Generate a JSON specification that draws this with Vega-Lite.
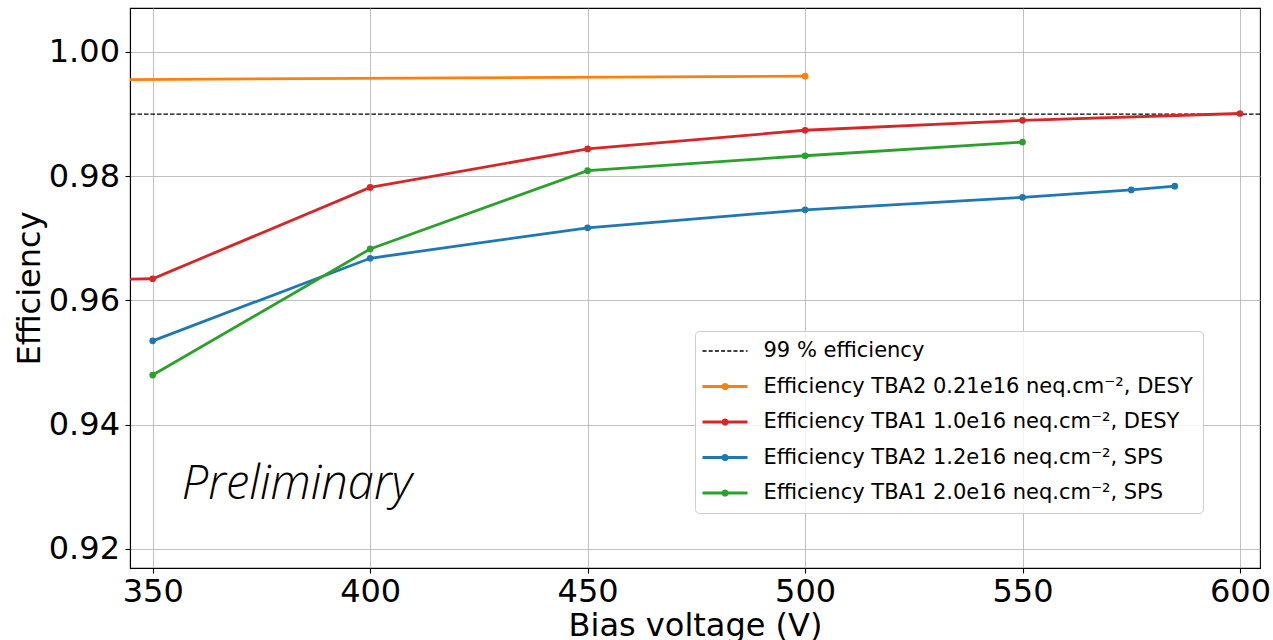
{
  "$schema": "https://vega.github.io/schema/vega-lite/v6.json",
  "width": 1130,
  "height": 560,
  "autosize": {"type": "none"},
  "padding": {"left": 130, "top": 8, "right": 13, "bottom": 72},
  "background": "white",
  "config": {
    "view": {"stroke": "black", "strokeWidth": 1.1},
    "axis": {
      "domainColor": "black", "domainWidth": 1.1,
      "tickColor": "black", "tickWidth": 1.1, "tickSize": 5,
      "labelFont": "DejaVu Sans", "labelFontSize": 32, "labelColor": "black",
      "titleFont": "DejaVu Sans", "titleFontSize": 32, "titleFontWeight": "normal", "titleColor": "black",
      "gridColor": "#b0b0b0", "gridWidth": 0.8
    }
  },
  "datasets": {
    "curves": [
      {"series": "Efficiency TBA2 0.21e16 neq.cm⁻², DESY", "voltage": 300, "eff": 0.9954},
      {"series": "Efficiency TBA2 0.21e16 neq.cm⁻², DESY", "voltage": 500, "eff": 0.9961},
      {"series": "Efficiency TBA1 1.0e16 neq.cm⁻², DESY", "voltage": 300, "eff": 0.9628},
      {"series": "Efficiency TBA1 1.0e16 neq.cm⁻², DESY", "voltage": 350, "eff": 0.9635},
      {"series": "Efficiency TBA1 1.0e16 neq.cm⁻², DESY", "voltage": 400, "eff": 0.9782},
      {"series": "Efficiency TBA1 1.0e16 neq.cm⁻², DESY", "voltage": 450, "eff": 0.9844},
      {"series": "Efficiency TBA1 1.0e16 neq.cm⁻², DESY", "voltage": 500, "eff": 0.9874},
      {"series": "Efficiency TBA1 1.0e16 neq.cm⁻², DESY", "voltage": 550, "eff": 0.9890},
      {"series": "Efficiency TBA1 1.0e16 neq.cm⁻², DESY", "voltage": 600, "eff": 0.9901},
      {"series": "Efficiency TBA2 1.2e16 neq.cm⁻², SPS", "voltage": 350, "eff": 0.9535},
      {"series": "Efficiency TBA2 1.2e16 neq.cm⁻², SPS", "voltage": 400, "eff": 0.9668},
      {"series": "Efficiency TBA2 1.2e16 neq.cm⁻², SPS", "voltage": 450, "eff": 0.9717},
      {"series": "Efficiency TBA2 1.2e16 neq.cm⁻², SPS", "voltage": 500, "eff": 0.9746},
      {"series": "Efficiency TBA2 1.2e16 neq.cm⁻², SPS", "voltage": 550, "eff": 0.9766},
      {"series": "Efficiency TBA2 1.2e16 neq.cm⁻², SPS", "voltage": 575, "eff": 0.9778},
      {"series": "Efficiency TBA2 1.2e16 neq.cm⁻², SPS", "voltage": 585, "eff": 0.9784},
      {"series": "Efficiency TBA1 2.0e16 neq.cm⁻², SPS", "voltage": 350, "eff": 0.9480},
      {"series": "Efficiency TBA1 2.0e16 neq.cm⁻², SPS", "voltage": 400, "eff": 0.9683},
      {"series": "Efficiency TBA1 2.0e16 neq.cm⁻², SPS", "voltage": 450, "eff": 0.9809},
      {"series": "Efficiency TBA1 2.0e16 neq.cm⁻², SPS", "voltage": 500, "eff": 0.9833},
      {"series": "Efficiency TBA1 2.0e16 neq.cm⁻², SPS", "voltage": 550, "eff": 0.9855}
    ],
    "threshold": [{"series": "99 % efficiency", "eff": 0.99}],
    "note": [{"voltage": 356.7, "eff": 0.9281, "label": "Preliminary"}]
  },
  "encoding": {
    "x": {
      "field": "voltage", "type": "quantitative",
      "scale": {"domain": [344.78, 604.6], "nice": false, "zero": false},
      "axis": {"values": [350, 400, 450, 500, 550, 600], "title": "Bias voltage (V)", "labelPadding": 3, "titlePadding": 3, "labelFlush": false}
    },
    "y": {
      "field": "eff", "type": "quantitative",
      "scale": {"domain": [0.91694, 1.00708], "nice": false, "zero": false},
      "axis": {"values": [0.92, 0.94, 0.96, 0.98, 1.0], "format": ".2f", "title": "Efficiency", "labelPadding": 5.5, "titlePadding": 2, "labelFlush": false}
    }
  },
  "layer": [
    {
      "data": {"name": "threshold"},
      "mark": {"type": "rule", "strokeDash": [4.5, 2], "strokeWidth": 1.3},
      "encoding": {
        "x": null,
        "color": {"field": "series", "type": "nominal"}
      }
    },
    {
      "data": {"name": "curves"},
      "mark": {"type": "line", "strokeWidth": 2.8, "clip": true},
      "encoding": {
        "color": {
          "field": "series", "type": "nominal",
          "scale": {
            "domain": ["99 % efficiency", "Efficiency TBA2 0.21e16 neq.cm⁻², DESY", "Efficiency TBA1 1.0e16 neq.cm⁻², DESY", "Efficiency TBA2 1.2e16 neq.cm⁻², SPS", "Efficiency TBA1 2.0e16 neq.cm⁻², SPS"],
            "range": ["black", "#ff7f0e", "#d62728", "#1f77b4", "#2ca02c"]
          },
          "legend": {
            "orient": "none", "legendX": 565, "legendY": 323, "title": null,
            "labelFont": "DejaVu Sans", "labelFontSize": 21, "labelColor": "black", "labelLimit": 700,
            "padding": 9.5, "rowPadding": 13.5, "symbolSize": 400, "symbolStrokeWidth": 2.8,
            "symbolType": "stroke",
            "labelOffset": 38,
            "strokeColor": "#cccccc", "fillColor": "rgba(255,255,255,0.8)", "cornerRadius": 4,
            "encode": {
              "symbols": {
                "update": {
                  "shape": {"signal": "datum.value === '99 % efficiency' ? 'M-1.25,0H3.25' : 'M-1.25,0H3.25M1.22,0A0.22,0.22,0,1,1,0.78,0A0.22,0.22,0,1,1,1.22,0'"},
                  "strokeDash": {"signal": "datum.value === '99 % efficiency' ? [4, 2.2] : [1, 0]"},
                  "strokeWidth": {"signal": "datum.value === '99 % efficiency' ? 1.3 : 2.8"}
                }
              }
            }
          }
        }
      }
    },
    {
      "data": {"name": "curves"},
      "mark": {"type": "point", "filled": true, "size": 45, "opacity": 1, "clip": true},
      "encoding": {
        "color": {"field": "series", "type": "nominal"}
      }
    },
    {
      "data": {"name": "note"},
      "mark": {"type": "text", "font": "Open Sans", "fontStyle": "italic", "fontWeight": 300, "fontSize": 47, "align": "left", "baseline": "alphabetic", "color": "black"},
      "encoding": {"text": {"field": "label"}}
    }
  ]
}
